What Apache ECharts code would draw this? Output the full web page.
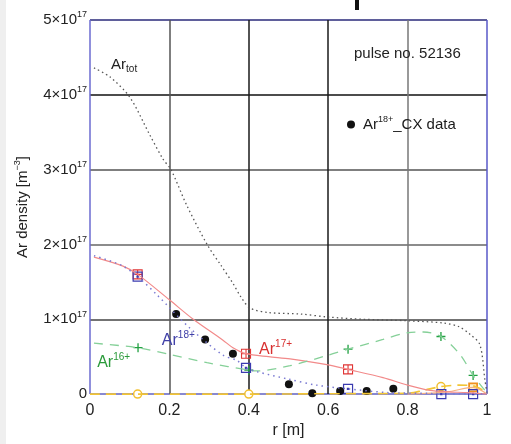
<!DOCTYPE html>
<html>
<head>
<meta charset="utf-8">
<script src="https://cdn.jsdelivr.net/npm/echarts@6/dist/echarts.min.js"></script>
<style>
html,body{margin:0;padding:0;background:#fff;}
#chart{width:511px;height:444px;}
</style>
</head>
<body>
<div id="chart"></div>
<script>
// Values in units of 1e17 m^-3, radius r in m
const xTicks = [0, 0.2, 0.4, 0.6, 0.8, 1];
const yTicks = [0, 1, 2, 3, 4, 5];

const rTot  = [0.01, 0.05, 0.1, 0.15, 0.184, 0.204, 0.244, 0.295, 0.33, 0.36, 0.38, 0.403, 0.45, 0.53, 0.6, 0.69, 0.8, 0.89, 0.93, 0.957, 0.982, 0.995, 1.0];
const arTot = [4.36, 4.24, 3.97, 3.47, 3.14, 3.0, 2.52, 2.0, 1.72, 1.48, 1.3, 1.15, 1.09, 1.07, 1.03, 1.0, 0.98, 0.95, 0.9, 0.8, 0.66, 0.18, 0.02];

const r17  = [0.01, 0.083, 0.12, 0.2, 0.26, 0.335, 0.36, 0.393, 0.45, 0.504, 0.6, 0.65, 0.738, 0.8, 0.856, 0.9, 0.95, 1.0];
const ar17 = [1.83, 1.71, 1.6, 1.26, 1.0, 0.72, 0.62, 0.54, 0.5, 0.47, 0.39, 0.33, 0.22, 0.12, 0.05, 0.03, 0.02, 0.0];
const r17m  = [0.12, 0.393, 0.65];
const ar17m = [1.6, 0.54, 0.33];

const r18  = [0.01, 0.08, 0.12, 0.168, 0.25, 0.335, 0.37, 0.393, 0.42, 0.5, 0.57, 0.65, 0.75, 0.85, 0.885, 0.965, 1.0];
const ar18 = [1.85, 1.72, 1.57, 1.33, 0.89, 0.52, 0.45, 0.35, 0.3, 0.2, 0.12, 0.07, 0.02, 0.01, 0.0, 0.0, 0.0];
const r18m  = [0.12, 0.393, 0.65, 0.885, 0.965];
const ar18m = [1.57, 0.35, 0.07, 0.0, 0.0];

const r16  = [0.01, 0.121, 0.2, 0.295, 0.4, 0.42, 0.504, 0.6, 0.65, 0.738, 0.8, 0.84, 0.884, 0.932, 0.965, 0.99, 1.0];
const ar16 = [0.68, 0.62, 0.53, 0.42, 0.32, 0.31, 0.38, 0.52, 0.6, 0.73, 0.82, 0.83, 0.77, 0.53, 0.25, 0.08, 0.02];
const r16m  = [0.121, 0.4, 0.65, 0.884, 0.965];
const ar16m = [0.62, 0.32, 0.6, 0.77, 0.25];

const r15  = [0.0, 0.12, 0.4, 0.6, 0.8, 0.84, 0.884, 0.93, 0.965, 0.99, 1.0];
const ar15 = [0.0, 0.0, 0.0, 0.005, 0.01, 0.05, 0.1, 0.12, 0.11, 0.05, 0.0];
const r15m  = [0.12, 0.4, 0.884];
const ar15m = [0.0, 0.0, 0.1];

const r14  = [0.8, 0.9, 0.965, 1.0];
const ar14 = [0.0, 0.03, 0.09, 0.0];
const r14m  = [0.965];
const ar14m = [0.09];

const rCX  = [0.217, 0.29, 0.36, 0.501, 0.56, 0.63, 0.697, 0.764];
const arCX = [1.07, 0.73, 0.54, 0.13, 0.01, 0.04, 0.04, 0.07];

const zip = (a, b) => a.map((v, i) => [v, b[i]]);

const FONT = 'Liberation Sans, Arial, sans-serif';
const supRich = (fs, col) => ({
  a: {fontSize: fs, lineHeight: fs + 4, color: col, fontFamily: FONT},
  s: {fontSize: Math.round(fs * 0.62), lineHeight: Math.round(fs * 0.7), verticalAlign: 'top', color: col, fontFamily: FONT},
  b: {fontSize: Math.round(fs * 0.65), lineHeight: Math.round(fs * 0.7), verticalAlign: 'bottom', color: col, fontFamily: FONT}
});

const annot = (pos, text, fs, col) => ({
  value: pos,
  label: {show: true, position: 'right', distance: 0, formatter: text, rich: supRich(fs, col)}
});

const chart = echarts.init(document.getElementById('chart'), null, {renderer: 'canvas'});
chart.setOption({
  backgroundColor: '#fff',
  animation: false,
  grid: {left: 90, right: 24, top: 20, bottom: 47},
  legend: {
    data: ['CX'],
    left: 342, top: 110,
    icon: 'circle', itemWidth: 14, itemHeight: 8,
    formatter: () => '{a|Ar}{s|18+}{a|_CX data}',
    textStyle: {rich: supRich(15, '#1a1a1a')}
  },
  graphic: [
    {type: 'rect', left: 0, top: 0, shape: {width: 6, height: 444}, style: {fill: '#efefef'}},
    {type: 'rect', left: 355, top: 0, shape: {width: 4, height: 10}, style: {fill: '#111'}}
  ],
  xAxis: {
    type: 'value', min: 0, max: 1, interval: 0.2,
    name: 'r [m]', nameLocation: 'middle', nameGap: 27,
    nameTextStyle: {fontSize: 16, color: '#222', fontFamily: FONT},
    axisLine: {show: false}, axisTick: {show: false},
    axisLabel: {margin: 8, fontSize: 16, color: '#222', fontFamily: FONT,
      formatter: v => { const i = xTicks.findIndex(t => Math.abs(t - v) < 1e-6); return i < 0 ? '' : String(xTicks[i]); }},
    splitLine: {show: true, lineStyle: {width: 1.5, color: ['#6b6bd0', '#555', '#1a1a1a', '#1a1a1a', '#777', '#5858c8']}}
  },
  yAxis: {
    type: 'value', min: 0, max: 5, interval: 1,
    name: '{a|Ar density [m}{s|−3}{a|]}', nameLocation: 'middle', nameRotate: 90, nameGap: 58,
    nameTextStyle: {color: '#222', rich: supRich(15, '#222')},
    axisLine: {show: false}, axisTick: {show: false},
    axisLabel: {margin: 3, color: '#222',
      formatter: v => { const i = yTicks.findIndex(t => Math.abs(t - v) < 1e-6); if (i < 0) return ''; return yTicks[i] === 0 ? '{a|0}' : '{a|' + yTicks[i] + '×10}{s|17}'; },
      rich: supRich(15, '#222')},
    splitLine: {show: true, lineStyle: {width: 1.5, color: ['#6060c0', '#444', '#666', '#555', '#111', '#2a2a7a']}}
  },
  series: [
    {name: 'tot', type: 'line', data: zip(rTot, arTot), smooth: 0.3, showSymbol: false,
     lineStyle: {color: '#555', width: 1.3, type: [1.5, 3]}},
    {name: 'Ar15', type: 'line', data: zip(r15, ar15), smooth: 0.3, showSymbol: false,
     lineStyle: {color: '#f2c535', width: 1.6, type: [10, 6]}},
    {name: 'Ar14', type: 'line', data: zip(r14, ar14), smooth: 0.3, showSymbol: false,
     lineStyle: {color: '#f4b080', width: 1.2}},
    {name: 'Ar17', type: 'line', data: zip(r17, ar17), smooth: 0.3, showSymbol: false,
     lineStyle: {color: '#f28a8a', width: 1.2}},
    {name: 'Ar16', type: 'line', data: zip(r16, ar16), smooth: 0.3, showSymbol: false,
     lineStyle: {color: '#85d098', width: 1.3, type: [9, 7]}},
    {name: 'Ar18', type: 'line', data: zip(r18, ar18), smooth: 0.3, showSymbol: false,
     lineStyle: {color: '#7a7ad2', width: 1.5, type: [1.5, 4]}},
    {name: 'Ar15m', type: 'scatter', data: zip(r15m, ar15m), symbol: 'circle', symbolSize: 8,
     itemStyle: {opacity: 1, color: '#fff', borderColor: '#f2c030', borderWidth: 1.5}},
    {name: 'Ar14m', type: 'scatter', data: zip(r14m, ar14m), symbol: 'rect', symbolSize: 8,
     itemStyle: {opacity: 1, color: '#fff3d0', borderColor: '#f09020', borderWidth: 1.8}},
    {name: 'Ar16m', type: 'scatter', data: zip(r16m, ar16m), symbol: 'path://M5,0V10M0,5H10', symbolSize: 9,
     itemStyle: {opacity: 1, color: 'rgba(0,0,0,0)', borderColor: '#20a040', borderWidth: 1.3}},
    {name: 'Ar17m', type: 'scatter', data: zip(r17m, ar17m), symbol: 'path://M0,0H10V10H0ZM5,0V10M0,5H10', symbolSize: 9,
     itemStyle: {opacity: 1, color: 'rgba(0,0,0,0)', borderColor: '#e03535', borderWidth: 1.1}},
    {name: 'Ar18m', type: 'scatter', data: zip(r18m, ar18m), symbol: 'path://M0,0H10V10H0ZM4.3,4.3H5.7V5.7H4.3Z', symbolSize: 9,
     itemStyle: {opacity: 1, color: 'rgba(0,0,0,0)', borderColor: '#3b3bb0', borderWidth: 1.2}},
    {name: 'CX', type: 'scatter', data: zip(rCX, arCX), symbol: 'circle', symbolSize: 8,
     itemStyle: {opacity: 1, color: '#111'}},
    {name: 'annot', type: 'scatter', symbolSize: 0, silent: true, itemStyle: {opacity: 1},
     data: [
       annot([0.053, 4.4], '{a|Ar}{b|tot}', 15, '#222'),
       annot([0.665, 4.55], '{a|pulse no. 52136}', 15, '#222'),
       annot([0.181, 0.72], '{a|Ar}{s|18+}', 16, '#4040a8'),
       annot([0.426, 0.6], '{a|Ar}{s|17+}', 16, '#d83030'),
       annot([0.018, 0.42], '{a|Ar}{s|16+}', 16, '#2a9a3a')
     ]}
  ]
});
</script>
</body>
</html>
